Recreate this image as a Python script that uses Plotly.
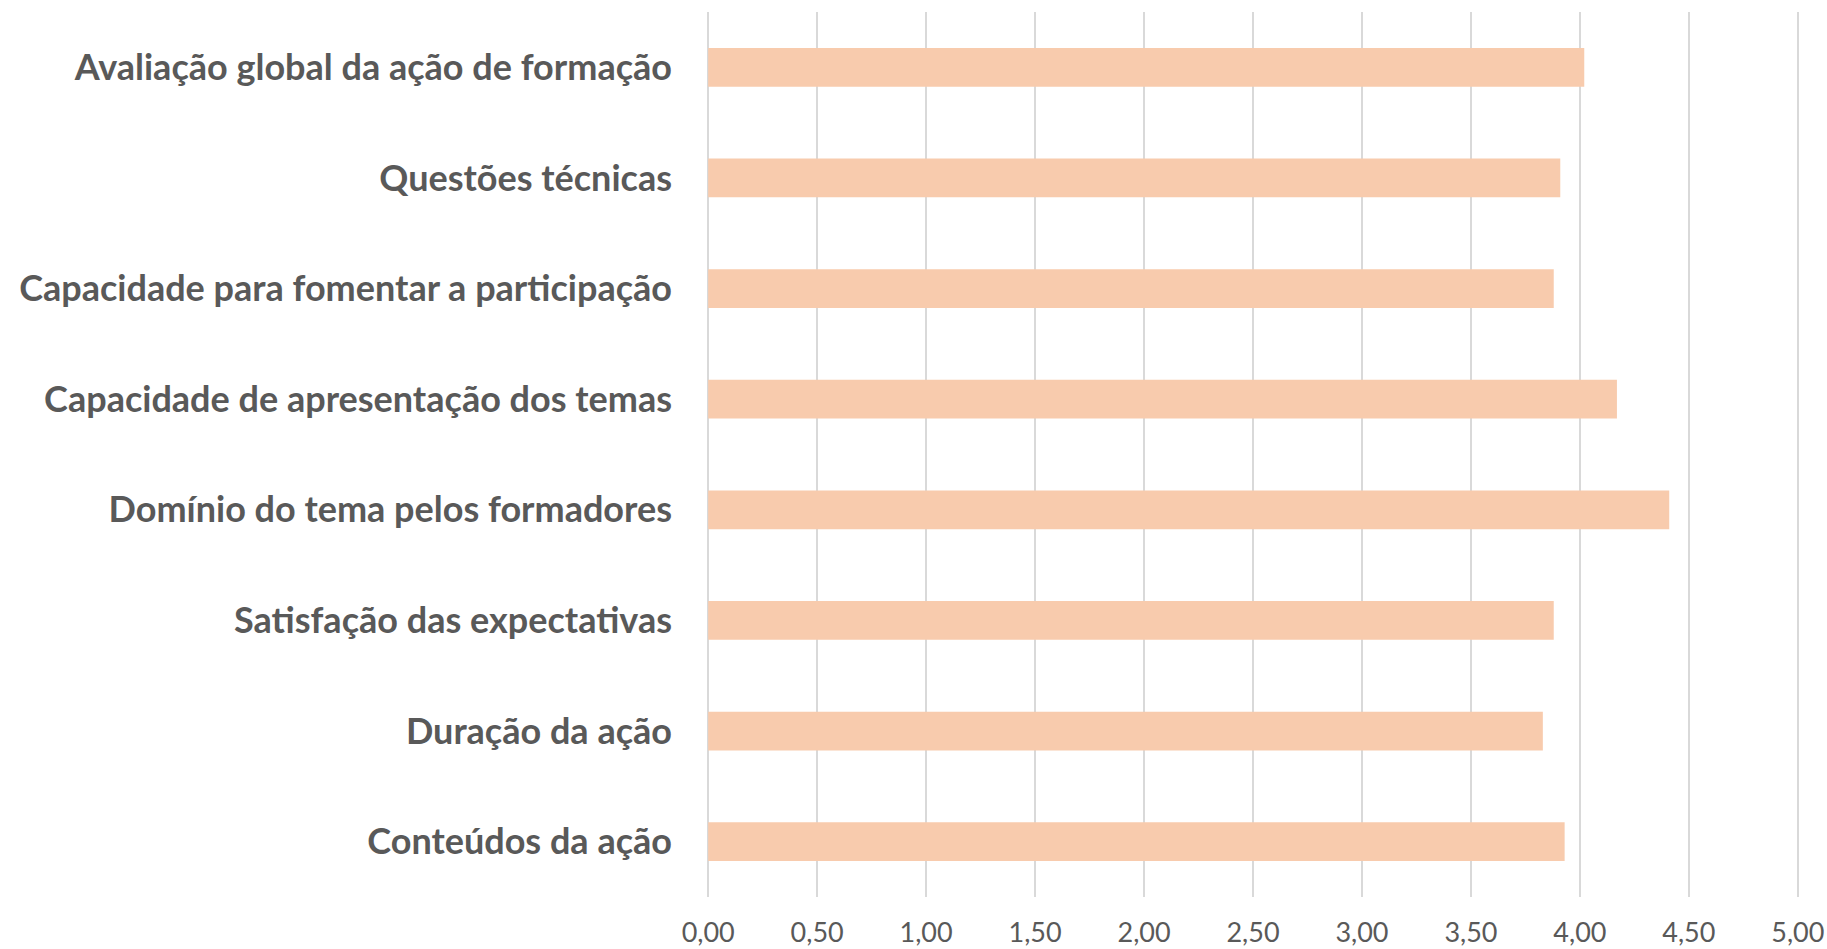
import plotly.graph_objects as go

categories = [
    "Avaliação global da ação de formação",
    "Questões técnicas",
    "Capacidade para fomentar a participação",
    "Capacidade de apresentação dos temas",
    "Domínio do tema pelos formadores",
    "Satisfação das expectativas",
    "Duração da ação",
    "Conteúdos da ação",
]
values = [4.02, 3.91, 3.88, 4.17, 4.41, 3.88, 3.83, 3.93]
x_ticks = [0, 0.5, 1, 1.5, 2, 2.5, 3, 3.5, 4, 4.5, 5]

fig = go.Figure(
    go.Bar(
        x=values,
        y=categories,
        orientation="h",
        marker=dict(color="#F8CBAD", line=dict(width=0)),
        width=0.35,
        hoverinfo="x+y",
    )
)

fig.update_layout(
    width=1827,
    height=949,
    margin=dict(l=706, r=27, t=12, b=52, autoexpand=False),
    paper_bgcolor="white",
    plot_bgcolor="white",
    separators=",.",
    showlegend=False,
    font=dict(family="Lato, 'Open Sans', sans-serif", color="#595959"),
)

fig.update_xaxes(
    range=[-0.01, 5.01],
    tickvals=x_ticks,
    tickformat=".2f",
    showgrid=True,
    gridcolor="#D9D9D9",
    gridwidth=2,
    zeroline=False,
    showline=False,
    ticks="",
    automargin=False,
    ticklabelstandoff=17,
    tickfont=dict(size=27, color="#595959", family="Lato, sans-serif"),
    fixedrange=True,
)

fig.update_yaxes(
    autorange="reversed",
    showgrid=False,
    zeroline=False,
    showline=False,
    ticks="",
    automargin=False,
    ticklabelstandoff=33,
    tickfont=dict(size=36, color="#595959", family="Lato, sans-serif", weight="bold"),
    fixedrange=True,
)

fig.write_html(
    "out.html",
    config={"displayModeBar": False},
    post_script="document.body.style.margin='0';document.body.style.overflow='hidden';",
)
